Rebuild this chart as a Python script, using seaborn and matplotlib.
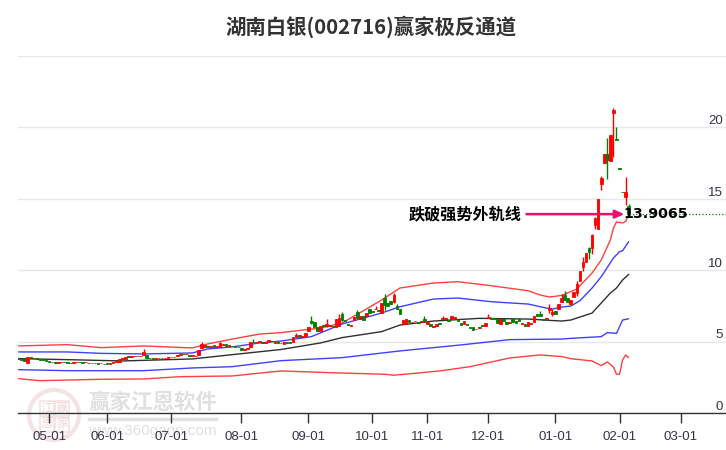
import matplotlib
matplotlib.use("Agg")
import matplotlib.pyplot as plt
import seaborn as sns
from matplotlib.patches import Circle, Rectangle
from matplotlib.transforms import IdentityTransform

# daily candles, one line per ten trading days
opens = [
    3.80, 3.78, 3.78, 3.52, 3.92, 3.82, 3.82, 3.80, 3.75, 3.70,
    3.64, 3.60, 3.55, 3.50, 3.55, 3.60, 3.58, 3.52, 3.50, 3.54,
    3.58, 3.55, 3.54, 3.52, 3.50, 3.50, 3.48, 3.47, 3.46, 3.50,
    3.46, 3.50, 3.55, 3.60, 3.75, 3.80, 4.02, 3.92, 3.96, 4.02,
    3.96, 4.06, 4.06, 3.88, 3.82, 3.78, 3.82, 3.86, 3.84, 3.86,
    3.90, 3.94, 3.98, 4.06, 4.15, 4.10, 4.08, 4.02, 3.98, 4.05,
    4.55, 4.62, 4.70, 4.60, 4.75, 4.60, 4.62, 4.75, 4.80, 4.72,
    4.72, 4.70, 4.65, 4.55, 4.42, 4.50, 4.62, 4.98, 4.95, 5.00,
    5.00, 4.92, 4.95, 5.02, 4.92, 4.96, 4.88, 4.80, 4.95, 4.95,
    4.97, 5.30, 5.42, 5.30, 5.40, 5.75, 6.45, 6.35, 6.00, 5.75,
    6.15, 6.05, 6.05, 6.08, 6.00, 6.10, 6.95, 6.50, 6.25, 6.05,
    6.50, 7.05, 6.55, 6.75, 6.80, 7.25, 7.10, 7.25, 7.20, 7.00,
    8.05, 7.70, 7.85, 7.75, 7.45, 7.25, 6.20, 6.25, 6.50, 6.35,
    6.40, 6.38, 6.35, 6.55, 6.25, 6.25, 6.00, 6.10, 6.30, 6.55,
    6.60, 6.50, 6.60, 6.55, 6.50, 6.30, 6.22, 6.25, 6.00, 6.00,
    5.90, 5.97, 6.12, 6.10, 6.62, 6.65, 6.65, 6.55, 6.22, 6.55,
    6.35, 6.32, 6.60, 6.40, 6.55, 6.25, 6.25, 6.10, 6.20, 6.35,
    6.95, 6.95, 6.60, 6.55, 7.20, 6.95, 7.13, 7.27, 7.75, 8.25,
    8.05, 7.65, 8.10, 8.40, 9.20, 10.20, 10.55, 11.55, 11.55, 13.15,
    12.85, 16.00, 17.48, 18.10, 17.65, 21.00, 19.15, 17.12, 15.47, 15.10,
    14.50,
]
closes = [
    3.76, 3.72, 3.66, 3.92, 3.85, 3.85, 3.76, 3.72, 3.70, 3.64,
    3.60, 3.55, 3.50, 3.55, 3.60, 3.56, 3.52, 3.48, 3.54, 3.58,
    3.55, 3.52, 3.56, 3.50, 3.48, 3.52, 3.46, 3.50, 3.44, 3.46,
    3.50, 3.55, 3.62, 3.80, 3.82, 3.92, 3.92, 3.96, 4.00, 3.96,
    4.00, 4.24, 3.88, 3.82, 3.78, 3.82, 3.86, 3.84, 3.86, 3.90,
    3.94, 3.92, 4.06, 4.12, 4.10, 4.14, 4.02, 4.05, 4.02, 4.40,
    4.80, 4.78, 4.60, 4.70, 4.60, 4.66, 4.90, 4.85, 4.72, 4.76,
    4.66, 4.65, 4.60, 4.42, 4.45, 4.58, 4.95, 4.95, 5.00, 5.05,
    4.92, 4.95, 5.07, 5.05, 4.96, 4.92, 4.92, 4.95, 4.90, 4.90,
    5.30, 5.42, 5.30, 5.38, 5.62, 6.00, 6.30, 6.00, 5.70, 6.10,
    6.05, 6.20, 6.12, 6.00, 6.55, 6.65, 6.50, 6.40, 6.15, 6.18,
    6.72, 6.65, 6.75, 6.50, 7.00, 7.00, 7.05, 7.30, 7.10, 7.70,
    7.55, 7.45, 7.60, 8.25, 7.30, 6.90, 6.50, 6.55, 6.35, 6.38,
    6.45, 6.28, 6.45, 6.45, 6.35, 6.10, 6.10, 6.20, 6.20, 6.65,
    6.65, 6.40, 6.75, 6.68, 6.45, 6.15, 6.40, 6.18, 5.95, 5.80,
    5.85, 6.02, 6.06, 6.27, 6.70, 6.55, 6.55, 6.30, 6.60, 6.45,
    6.20, 6.35, 6.35, 6.30, 6.45, 6.32, 6.05, 6.35, 6.28, 6.75,
    6.80, 6.80, 6.50, 6.62, 7.35, 7.05, 6.90, 7.62, 8.05, 7.90,
    7.75, 7.90, 8.45, 9.00, 9.90, 10.55, 11.20, 11.25, 12.45, 13.65,
    15.00, 16.45, 18.10, 17.70, 19.45, 21.20, 19.10, 17.08, 15.43, 15.45,
    13.9065,
]
# only the candles with a visible wick
wick_high = {41: 4.5, 60: 4.95, 66: 5.0, 76: 5.0, 77: 5.2, 82: 5.1, 91: 5.6, 96: 6.75, 101: 6.55,
             105: 6.9, 106: 7.05, 111: 7.2, 117: 7.5, 120: 8.35, 123: 8.4, 124: 7.6, 133: 6.75,
             139: 6.8, 154: 6.92, 171: 7.1, 174: 7.6, 175: 7.3, 178: 8.3, 179: 8.55, 183: 9.2,
             185: 10.9, 187: 11.6, 188: 12.5, 189: 13.7, 191: 16.6, 193: 19.2, 195: 21.3,
             196: 20.0, 199: 16.5, 200: 14.6}
wick_low = {96: 6.2, 101: 6.0, 106: 6.4, 120: 7.2, 123: 7.7, 174: 7.0, 175: 6.75, 183: 8.2,
            185: 9.9, 187: 10.75, 188: 11.1, 189: 12.9, 191: 15.6, 193: 16.35, 195: 17.9, 199: 14.55}

# channel lines
outer_up_days = [0, 16, 27, 41, 57, 62, 70, 79, 86, 99, 106, 114, 119, 125, 136, 144, 155, 167, 171,
                 174, 178, 183, 188, 191, 194, 195, 196, 198, 199, 200]
outer_up = [4.69, 4.78, 4.57, 4.69, 4.55, 4.83, 5.17, 5.52, 5.62, 5.94, 6.29, 7.27, 7.90, 8.74, 9.09,
            9.18, 8.90, 8.55, 8.25, 8.11, 8.22, 8.67, 9.79, 10.70, 12.10, 12.94, 13.36, 13.29, 13.40, 13.85]
inner_up_days = [0, 16, 27, 41, 57, 62, 70, 79, 86, 96, 106, 119, 125, 136, 144, 155, 167, 173, 175,
                 178, 181, 184, 188, 191, 195, 197, 198, 200]
inner_up = [4.27, 4.27, 4.17, 4.13, 4.20, 4.48, 4.62, 4.90, 5.03, 5.34, 6.22, 6.99, 7.43, 7.97, 8.04,
            7.78, 7.62, 7.34, 7.27, 7.41, 7.48, 7.85, 8.74, 9.53, 10.84, 11.28, 11.35, 11.98]
mid_days = [0, 16, 34, 57, 70, 86, 99, 106, 119, 125, 136, 151, 167, 178, 181, 188, 191, 194, 196, 198, 200]
mid = [3.80, 3.73, 3.64, 3.78, 4.08, 4.44, 4.90, 5.27, 5.69, 6.15, 6.43, 6.62, 6.57, 6.43, 6.50, 6.99,
       7.69, 8.39, 8.74, 9.30, 9.70]
inner_low_days = [0, 16, 41, 57, 70, 86, 106, 125, 145, 161, 178, 181, 191, 193, 196, 198, 200]
inner_low = [3.03, 2.96, 2.96, 3.15, 3.24, 3.66, 3.87, 4.34, 4.76, 5.13, 5.17, 5.22, 5.34, 5.62, 5.57,
             6.50, 6.59]
outer_low_days = [0, 7, 27, 41, 53, 70, 86, 102, 120, 123, 138, 148, 161, 171, 178, 181, 188, 191, 193,
                  195, 196, 197, 198, 199, 200]
outer_low = [2.40, 2.26, 2.36, 2.38, 2.54, 2.59, 2.94, 2.82, 2.71, 2.64, 2.94, 3.24, 3.85, 4.06, 3.95,
             3.80, 3.64, 3.31, 3.57, 3.22, 2.71, 2.71, 3.71, 4.06, 3.87]

month_days = [10, 29, 50, 73, 95, 116, 134, 154, 176, 197, 217]
month_labels = ["05-01", "06-01", "07-01", "08-01", "09-01", "10-01", "11-01", "12-01", "01-01", "02-01", "03-01"]
price_ticks = [0, 5, 10, 15, 20]

sns.set_theme(style="white")
plt.rcParams["font.family"] = ["Liberation Sans", "DejaVu Sans"]

fig = plt.figure(figsize=(7.26, 4.5), dpi=100)
ax = fig.add_axes([18 / 726, (450 - 413) / 450, 708 / 726, 357.5 / 450])
ax.set_zorder(5)  # tick labels sit over the watermark

# watermark, placed in pixels
px = IdentityTransform()
wm_red = "#f5e2e2"
wm_grey = "#e0e0e0"
logo_font = ["Noto Sans CJK SC", "DejaVu Sans"]
fig.add_artist(Circle((54, 450 - 415), 25, fill=False, ec=wm_red, lw=3, transform=px))
for cx, cy, ch in [(47, 408, "江"), (62, 408, "赢"), (47, 424, "恩"), (62, 424, "家")]:
    fig.add_artist(Rectangle((cx - 7, 450 - cy - 7.5), 14, 15, fill=False, ec=wm_red, lw=1.2, transform=px))
    fig.text(cx / 726, 1 - cy / 450, ch, color="#f1d6d6", fontsize=9, ha="center", va="center", family=logo_font)
fig.text(88 / 726, 1 - 402 / 450, "赢家江恩软件", color=wm_grey, fontsize=15.5, fontweight="bold",
         ha="left", va="center", family=logo_font)
fig.add_artist(Rectangle((88, 450 - 420), 129, 2, color=wm_grey, transform=px))
fig.text(88 / 726, 1 - 431 / 450, "www.360gann.com", color=wm_grey, fontsize=11, ha="left", va="center")

# channel
for days, values, color in [
    (outer_up_days, outer_up, "#ff4040"),
    (inner_up_days, inner_up, "#4040ff"),
    (mid_days, mid, "#303030"),
    (inner_low_days, inner_low, "#4040ff"),
    (outer_low_days, outer_low, "#ff4040"),
]:
    sns.lineplot(x=days, y=values, color=color, linewidth=1.0, ax=ax, zorder=2)

# candles
for day, (o, c) in enumerate(zip(opens, closes)):
    color = "#ff0000" if c >= o else "#008000"
    hi = wick_high.get(day, max(o, c))
    lo = wick_low.get(day, min(o, c))
    ax.vlines(day, lo, hi, color=color, linewidth=1.0, zorder=3)
    ax.bar(day, abs(c - o), bottom=min(o, c), width=0.85, color=color, edgecolor=color, linewidth=0.6, zorder=3)

last_day = len(closes) - 1
last_close = closes[-1]
ax.plot([last_day, 232], [last_close, last_close], color="#008000", linewidth=0.9, linestyle=":", zorder=2)

# breakout note
label_font = ["Noto Sans CJK SC", "DejaVu Sans"]
ax.annotate("", xy=(198.6, last_close), xytext=(166.5, last_close),
            arrowprops=dict(arrowstyle="-|>,head_width=0.2,head_length=0.45", color="#e8126e", lw=1.8,
                            shrinkA=0, shrinkB=0), zorder=5)
ax.text(128, last_close, "跌破强势外轨线", fontsize=11.6, fontweight="bold", color="black", ha="left", va="center",
        family=label_font, zorder=6)
ax.text(198.4, last_close, f"{last_close:.4f}", fontsize=10.2, fontweight="bold", color="black", ha="left",
        va="center", family="DejaVu Sans", zorder=6)

ax.set_xlim(-0.2, 231.9)
ax.set_ylim(0, 25)
ax.set_xticks(month_days)
ax.set_xticklabels(month_labels, fontsize=9.5, color="#333344")
ax.yaxis.tick_right()
ax.set_yticks(price_ticks + [25])
ax.set_yticklabels([str(v) for v in price_ticks] + [""], fontsize=9.5, color="#333344", ha="right", va="bottom")
ax.tick_params(axis="x", direction="out", length=7.2, width=1, color="#333333", pad=6, bottom=True)
ax.tick_params(axis="y", length=0, pad=-2)
ax.grid(axis="y", color="#e8e8e8", linewidth=1.0)
ax.grid(axis="x", visible=False)
ax.set_axisbelow(True)
ax.patch.set_alpha(0)
for side in ["left", "right", "top"]:
    ax.spines[side].set_visible(False)
ax.spines["bottom"].set_color("#333333")
ax.spines["bottom"].set_linewidth(1.0)

fig.text(371 / 726, 1 - 27 / 450, "湖南白银(002716)赢家极反通道", fontsize=14.7, fontweight="bold", color="#333333",
         ha="center", va="center", family=label_font)

fig.savefig("out.png", dpi=100)
